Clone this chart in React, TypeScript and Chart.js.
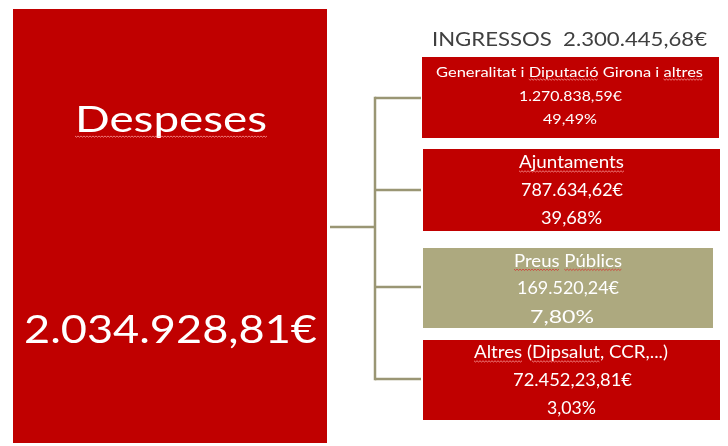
import React, { useEffect, useRef } from "react";
import { Chart, registerables } from "chart.js";

Chart.register(...registerables);

// ---- data ----
const expenseLabel = "Despeses";
const expenseTotal = "2.034.928,81€";
const incomeLabel = "INGRESSOS";
const incomeTotal = "2.300.445,68€";
const sourceNames = [
  "Generalitat i Diputació Girona i altres",
  "Ajuntaments",
  "Preus Públics",
  "Altres (Dipsalut, CCR,...)",
];
const sourceAmounts = ["1.270.838,59€", "787.634,62€", "169.520,24€", "72.452,23,81€"];
const sourceShares = ["49,49%", "39,68%", "7,80%", "3,03%"];
const flaggedWords = [["Diputació", "altres"], ["Ajuntaments"], ["Preus", "Públics"], ["Altres", "Dipsalut"]];

// ---- layout & style ----
const W = 728;
const H = 446;
const FONT = "Lato, 'Open Sans', sans-serif";
const RED = "#C00000";
const TAN = "#ADA97F";
const LINK = "#9A9674";
const boxColors = [RED, RED, TAN, RED];
const leftBox = { x0: 13, x1: 327, y0: 9, y1: 443 };
const boxes = [
  { x0: 422, x1: 719, y0: 57, y1: 138 },
  { x0: 423, x1: 720, y0: 149, y1: 231 },
  { x0: 423, x1: 713, y0: 248, y1: 328 },
  { x0: 423, x1: 720, y0: 340, y1: 420 },
];
const stem = { x0: 330, x1: 375, y: 227 };
const trunkX = 375;
const branchY = [98, 190, 287, 379];
const branchEndX = 421;

type Slot = { cx: number; base: number; size: number; width: number };
const lineSlots: Slot[][] = [
  [
    { cx: 569.5, base: 76.5, size: 14, width: 267 },
    { cx: 570.5, base: 101, size: 14, width: 103 },
    { cx: 570, base: 124.3, size: 14, width: 54 },
  ],
  [
    { cx: 571.5, base: 168.3, size: 16.5, width: 105 },
    { cx: 572, base: 195.7, size: 16.5, width: 102 },
    { cx: 571.5, base: 224, size: 16.5, width: 61 },
  ],
  [
    { cx: 568, base: 266.7, size: 16.5, width: 108 },
    { cx: 568, base: 294.3, size: 16.5, width: 102 },
    { cx: 562, base: 322.7, size: 16.5, width: 64 },
  ],
  [
    { cx: 571, base: 358.3, size: 16.5, width: 194 },
    { cx: 572.5, base: 385.7, size: 16.5, width: 119 },
    { cx: 571.5, base: 414, size: 16.5, width: 49 },
  ],
];
const expenseLabelSlot: Slot = { cx: 171, base: 132, size: 36, width: 192 };
const expenseTotalSlot: Slot = { cx: 170.5, base: 343, size: 39, width: 293 };
const titleSlot: Slot = { cx: 569.5, base: 46, size: 19, width: 275 };

type TextItem = Slot & { text: string; color: string; marks?: string[]; markColor?: string; markOffset?: number };

function rectDataset(b: { x0: number; x1: number; y0: number; y1: number }, color: string) {
  return {
    data: [
      { x: b.x0, y: b.y0 },
      { x: b.x1, y: b.y0 },
    ],
    borderWidth: 0,
    borderColor: color,
    backgroundColor: color,
    pointRadius: 0,
    fill: { value: b.y1 },
    tension: 0,
  };
}

function lineDataset(pts: { x: number; y: number }[]) {
  return {
    data: pts,
    borderWidth: 2.5,
    borderColor: LINK,
    backgroundColor: LINK,
    pointRadius: 0,
    fill: false,
    tension: 0,
  };
}

function drawWave(ctx: CanvasRenderingContext2D, x0: number, x1: number, y: number, color: string) {
  ctx.save();
  ctx.strokeStyle = color;
  ctx.lineWidth = 0.8;
  ctx.beginPath();
  let i = 0;
  for (let x = x0; x <= x1; x += 1.5, i++) {
    const yy = y + (i % 2 === 0 ? 0 : 1.2);
    if (i === 0) ctx.moveTo(x, yy);
    else ctx.lineTo(x, yy);
  }
  ctx.stroke();
  ctx.restore();
}

const textPlugin = {
  id: "diagramText",
  afterDatasetsDraw(chart: any) {
    const ctx: CanvasRenderingContext2D = chart.ctx;
    const xs = chart.scales.x;
    const ys = chart.scales.y;
    const items: TextItem[] = [];
    items.push({ ...expenseLabelSlot, text: expenseLabel, color: "#FFFFFF", marks: [expenseLabel], markColor: "rgba(255,170,170,0.9)", markOffset: 4 });
    items.push({ ...expenseTotalSlot, text: expenseTotal, color: "#FFFFFF" });
    items.push({ ...titleSlot, text: `${incomeLabel}  ${incomeTotal}`, color: "#404040" });
    sourceNames.forEach((name, i) => {
      const slots = lineSlots[i];
      const mc = boxColors[i] === TAN ? "rgba(215,40,40,0.9)" : "rgba(255,170,170,0.9)";
      items.push({ ...slots[0], text: name, color: "#FFFFFF", marks: flaggedWords[i], markColor: mc, markOffset: 2.5 });
      items.push({ ...slots[1], text: sourceAmounts[i], color: "#FFFFFF" });
      items.push({ ...slots[2], text: sourceShares[i], color: "#FFFFFF" });
    });
    for (const it of items) {
      ctx.save();
      ctx.font = `${it.size}px ${FONT}`;
      ctx.textAlign = "left";
      ctx.textBaseline = "alphabetic";
      const natural = ctx.measureText(it.text).width;
      const s = it.width / natural;
      const left = xs.getPixelForValue(it.cx) - it.width / 2;
      const base = ys.getPixelForValue(it.base);
      ctx.translate(left, base);
      ctx.scale(s, 1);
      ctx.fillStyle = it.color;
      ctx.fillText(it.text, 0, 0);
      ctx.restore();
      if (it.marks) {
        ctx.save();
        ctx.font = `${it.size}px ${FONT}`;
        for (const w of it.marks) {
          const idx = it.text.indexOf(w);
          if (idx < 0) continue;
          const a = ctx.measureText(it.text.slice(0, idx)).width * s;
          const b = ctx.measureText(it.text.slice(0, idx + w.length)).width * s;
          drawWave(ctx, left + a, left + b, base + (it.markOffset || 2), it.markColor || "#f99");
        }
        ctx.restore();
      }
    }
  },
};

export default function App() {
  const ref = useRef<HTMLCanvasElement | null>(null);
  useEffect(() => {
    if (!ref.current) return;
    const datasets: any[] = [];
    datasets.push(rectDataset(leftBox, RED));
    boxes.forEach((b, i) => datasets.push(rectDataset(b, boxColors[i])));
    datasets.push(lineDataset([{ x: stem.x0, y: stem.y }, { x: stem.x1, y: stem.y }]));
    datasets.push(lineDataset([{ x: trunkX, y: branchY[0] - 1.2 }, { x: trunkX, y: branchY[branchY.length - 1] + 1.2 }]));
    branchY.forEach((y) => datasets.push(lineDataset([{ x: trunkX, y }, { x: branchEndX, y }])));
    const chart = new Chart(ref.current, {
      type: "line",
      data: { datasets },
      options: {
        responsive: false,
        animation: false,
        events: [],
        layout: { padding: 0 },
        plugins: { legend: { display: false }, tooltip: { enabled: false } },
        scales: {
          x: { type: "linear", min: 0, max: W, display: false },
          y: { type: "linear", min: 0, max: H, reverse: true, display: false },
        },
      } as any,
      plugins: [textPlugin],
    });
    return () => chart.destroy();
  }, []);
  return (
    <div style={{ position: "absolute", left: 0, top: 0, width: W, height: H, background: "#FFFFFF" }}>
      <canvas ref={ref} width={W} height={H} style={{ width: W, height: H, display: "block" }} />
    </div>
  );
}
